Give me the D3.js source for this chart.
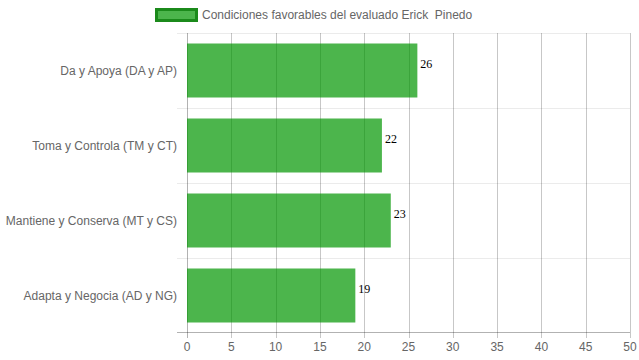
<!DOCTYPE html>
<html><head><meta charset="utf-8">
<script src="https://cdn.jsdelivr.net/npm/d3@7"></script>
<style>body{margin:0;background:#fff}svg{display:block}</style>
</head><body>
<svg id="c" width="639" height="360"></svg>
<script>
const categories = ["Da y Apoya (DA y AP)", "Toma y Controla (TM y CT)", "Mantiene y Conserva (MT y CS)", "Adapta y Negocia (AD y NG)"];
const values = [26, 22, 23, 19];
const xTicks = [0,5,10,15,20,25,30,35,40,45,50];
const seriesName = "Condiciones favorables del evaluado Erick  Pinedo";

const svg = d3.select("#c");
const m = {left:187, right:630, top:33, bottom:333};
const x = d3.scaleLinear().domain([0,50]).range([m.left, m.right]);
const yBand = d3.scaleBand().domain(categories).range([m.top, m.bottom]);
const barPad = yBand.bandwidth()*0.14;
const font = "Liberation Sans, Arial, sans-serif";

// horizontal grid (category boundaries)
const hLines = categories.map(c => yBand(c));
svg.selectAll(".hg").data(hLines).enter().append("line")
  .attr("x1", m.left-10).attr("x2", m.right)
  .attr("y1", d=>d+0.5).attr("y2", d=>d+0.5)
  .attr("stroke","rgba(0,0,0,0.08)");

// vertical grid
svg.selectAll(".vg").data(xTicks).enter().append("line")
  .attr("x1", d=>Math.round(x(d))+0.5).attr("x2", d=>Math.round(x(d))+0.5)
  .attr("y1", m.top).attr("y2", m.bottom+5)
  .attr("stroke", d=> d===0 ? "rgba(0,0,0,0.3)" : "rgba(0,0,0,0.22)");

// x axis line
svg.append("line").attr("x1", m.left-10).attr("x2", m.right)
  .attr("y1", m.bottom-0.5).attr("y2", m.bottom-0.5).attr("stroke","rgba(0,0,0,0.3)");

// bars
svg.selectAll(".bar").data(values).enter().append("rect")
  .attr("x", x(0))
  .attr("y", (d,i)=> yBand(categories[i]) + barPad)
  .attr("width", d=> x(d)-x(0))
  .attr("height", yBand.bandwidth()-2*barPad)
  .attr("fill","rgba(0,150,0,0.7)");

// value labels
svg.selectAll(".vl").data(values).enter().append("text")
  .attr("x", d=> x(d)+3)
  .attr("y", (d,i)=> yBand(categories[i]) + yBand.bandwidth()/2 - 2.5)
  .attr("font-family","Liberation Serif, Times New Roman, serif")
  .attr("font-size",12).attr("fill","#000")
  .text(d=>d);

// y labels
svg.selectAll(".yl").data(categories).enter().append("text")
  .attr("x", m.left-10)
  .attr("y", d=> yBand(d)+yBand.bandwidth()/2)
  .attr("dy","0.35em")
  .attr("text-anchor","end")
  .attr("font-family",font).attr("font-size",12).attr("fill","#666")
  .text(d=>d);

// x labels
svg.selectAll(".xl").data(xTicks).enter().append("text")
  .attr("x", d=>x(d)).attr("y", 351)
  .attr("text-anchor","middle")
  .attr("font-family",font).attr("font-size",12).attr("fill","#666")
  .text(d=>d);

// legend
svg.append("rect").attr("x",156.5).attr("y",9.5).attr("width",40).attr("height",11)
  .attr("fill","rgba(0,150,0,0.7)").attr("stroke","#1b8a1b").attr("stroke-width",3);
svg.append("text").attr("x",202).attr("y",15).attr("dy","0.35em")
  .attr("font-family",font).attr("font-size",12).attr("fill","#666")
  .style("white-space","pre")
  .text(seriesName);
</script>
</body></html>
